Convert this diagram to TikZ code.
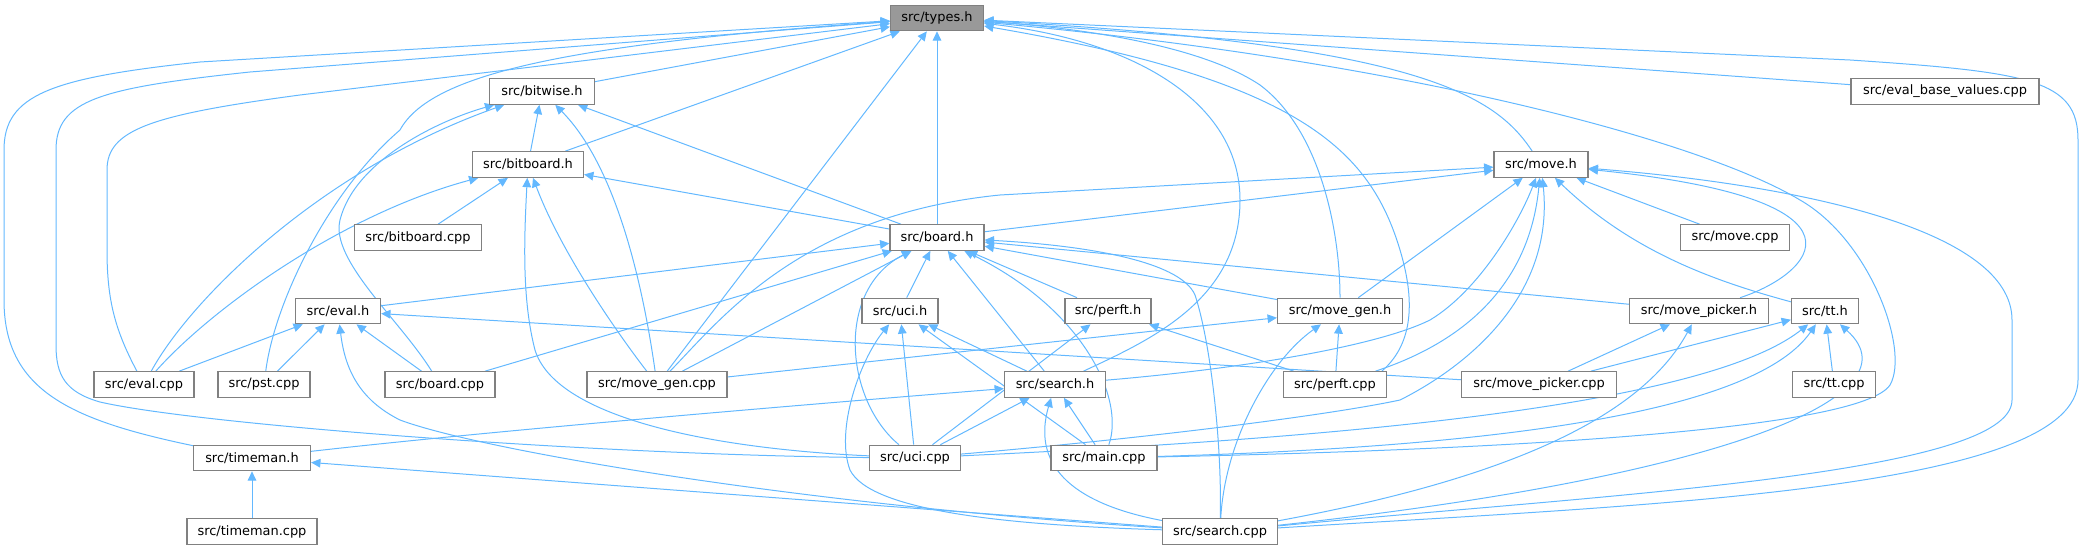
\documentclass[tikz,border=0pt]{standalone}
\usepackage{fontspec}
\newfontfamily\dvs{DejaVu Sans}
\usetikzlibrary{arrows.meta}
\pgfdeclarelayer{background}
\pgfsetlayers{background,main}
\definecolor{edgeblue}{HTML}{63B8FF}
\definecolor{nodeborder}{HTML}{808080}
\definecolor{rootfill}{HTML}{999999}
\begin{document}
\begin{tikzpicture}[x=0.75pt,y=-0.75pt,
  nd/.style={draw=nodeborder,line width=0.9pt,fill=white,minimum height=19.1pt,inner sep=0pt,font={\dvs\fontsize{9.7pt}{11pt}\selectfont}},
  w/.style={minimum width=#1*0.75pt},
  e/.style={draw=edgeblue,line width=0.75pt,-{Triangle[length=7pt,width=6.5pt]}}]
\useasboundingbox (0,0) rectangle (2084,549);
% nodes
\node[nd,w=93,fill=rootfill] (types) at (937,18) {src/types.h};
\node[nd,w=105] (bitwise) at (542,91.5) {src/bitwise.h};
\node[nd,w=188] (evalbase) at (1945,91.5) {src/eval\_base\_values.cpp};
\node[nd,w=111] (bitboard) at (528,164.5) {src/bitboard.h};
\node[nd,w=94] (moveh) at (1541,164.5) {src/move.h};
\node[nd,w=127] (bitboardcpp) at (418,237.5) {src/bitboard.cpp};
\node[nd,w=94] (boardh) at (937,237.5) {src/board.h};
\node[nd,w=109] (movecpp) at (1735,237.5) {src/move.cpp};
\node[nd,w=85] (evalh) at (338,311) {src/eval.h};
\node[nd,w=76] (ucih) at (900,311) {src/uci.h};
\node[nd,w=86] (perfth) at (1108,311) {src/perft.h};
\node[nd,w=125] (movegenh) at (1340,311) {src/move\_gen.h};
\node[nd,w=139] (movepickerh) at (1699,311) {src/move\_picker.h};
\node[nd,w=67] (tth) at (1825,311) {src/tt.h};
\node[nd,w=100] (evalcpp) at (144,384.5) {src/eval.cpp};
\node[nd,w=92] (pstcpp) at (264,384.5) {src/pst.cpp};
\node[nd,w=110] (boardcpp) at (440,384.5) {src/board.cpp};
\node[nd,w=140] (movegencpp) at (657,384.5) {src/move\_gen.cpp};
\node[nd,w=101] (searchh) at (1055,384.5) {src/search.h};
\node[nd,w=103] (perftcpp) at (1335,384.5) {src/perft.cpp};
\node[nd,w=155] (movepickercpp) at (1539,384.5) {src/move\_picker.cpp};
\node[nd,w=83] (ttcpp) at (1834,384.5) {src/tt.cpp};
\node[nd,w=117] (timemanh) at (252,458) {src/timeman.h};
\node[nd,w=91] (ucicpp) at (915,458) {src/uci.cpp};
\node[nd,w=106] (maincpp) at (1104,458) {src/main.cpp};
\node[nd,w=130] (timemancpp) at (252,531.5) {src/timeman.cpp};
\node[nd,w=115] (searchcpp) at (1220,531.5) {src/search.cpp};
\begin{pgfonlayer}{background}
% types.h
\draw[e] (bitwise) -- (types);
\draw[e] (bitboard) -- (types);
\draw[e] (boardh) -- (types);
\draw[e] (movegencpp) -- (types);
\draw[e] (moveh) .. controls (1495,95) and (1420,45) .. (types);
\draw[e] (evalbase) -- (types);
\draw[e] (searchcpp) .. controls (1650,505) and (2078,490) .. (2078,380) -- (2078,140) .. controls (2078,80) and (2030,72) .. (1850,60) -- (types);
\draw[e] (searchh) .. controls (1150,340) and (1240,300) .. (1240,200) .. controls (1240,100) and (1130,40) .. (types);
\draw[e] (movegenh) .. controls (1340,230) and (1320,130) .. (1260,85) .. controls (1200,45) and (1080,28) .. (types);
\draw[e] ([xshift=-4pt]perftcpp.north east) .. controls (1418,340) and (1412,290) .. (1400,250) .. controls (1370,150) and (1300,80) .. (types);
\draw[e] (maincpp) .. controls (1500,450) and (1860,430) .. (1890,385) .. controls (1910,350) and (1870,240) .. (1800,200) .. controls (1700,140) and (1400,60) .. (types);
\draw[e] (ucicpp) .. controls (600,455) and (200,425) .. (100,402) .. controls (65,392) and (56,375) .. (56,345) -- (56,150) .. controls (56,100) and (100,88) .. (250,72) -- (types);
\draw[e] (timemanh) .. controls (70,420) and (4,390) .. (4,300) -- (4,150) .. controls (4,95) and (50,78) .. (200,62) -- (types);
\draw[e] (evalcpp) .. controls (115,330) and (107,300) .. (107,250) -- (107,170) .. controls (107,130) and (150,115) .. (300,95) -- (types);
\draw[e] (pstcpp) .. controls (275,300) and (330,190) .. (400,130) .. controls (430,75) and (560,45) .. (types);
% bitwise.h
\draw[e] (bitboard) -- (bitwise);
\draw[e] (evalcpp) .. controls (190,300) and (320,170) .. (bitwise);
\draw[e] (boardcpp) .. controls (400,320) and (330,260) .. (340,220) .. controls (355,160) and (440,120) .. (bitwise);
\draw[e] (movegencpp) .. controls (645,300) and (620,170) .. (bitwise);
\draw[e] (boardh) -- (bitwise);
% bitboard.h
\draw[e] (bitboardcpp) -- (bitboard);
\draw[e] (evalcpp) .. controls (210,310) and (340,215) .. (bitboard);
\draw[e] (ucicpp) .. controls (700,448) and (555,415) .. (535,350) .. controls (522,300) and (524,240) .. (bitboard);
\draw[e] (movegencpp) .. controls (615,330) and (560,250) .. (bitboard);
\draw[e] (boardh) -- (bitboard);
% board.h
\draw[e] (evalh) -- (boardh);
\draw[e] (boardcpp) -- (boardh);
\draw[e] (movegencpp) -- (boardh);
\draw[e] (ucicpp) .. controls (845,400) and (835,290) .. (boardh);
\draw[e] (ucih) -- (boardh);
\draw[e] (searchh) -- (boardh);
\draw[e] (maincpp) .. controls (1125,400) and (1085,310) .. (boardh);
\draw[e] (perfth) -- (boardh);
\draw[e] (searchcpp) .. controls (1222,440) and (1210,340) .. (1195,295) .. controls (1180,260) and (1080,245) .. (boardh);
\draw[e] (movegenh) -- (boardh);
\draw[e] (movepickerh) -- (boardh);
% move.h
\draw[e] (boardh) -- (moveh);
\draw[e] (movegencpp) .. controls (720,320) and (800,215) .. (1000,195) -- (moveh);
\draw[e] (movegenh) -- (moveh);
\draw[e] (perftcpp) .. controls (1470,340) and (1530,280) .. (moveh);
\draw[e] (searchh) .. controls (1250,368) and (1380,345) .. (1430,320) .. controls (1480,290) and (1520,220) .. (moveh);
\draw[e] (ucicpp) .. controls (1150,438) and (1330,415) .. (1400,400) .. controls (1460,370) and (1555,300) .. (moveh);
\draw[e] (tth) .. controls (1710,280) and (1630,250) .. (moveh);
\draw[e] (movecpp) -- (moveh);
\draw[e] (movepickerh) .. controls (1810,275) and (1890,200) .. (moveh);
\draw[e] (searchcpp) .. controls (1600,495) and (2012,475) .. (2012,400) -- (2012,320) .. controls (2012,230) and (1800,185) .. (moveh);
% eval.h
\draw[e] (evalcpp) -- (evalh);
\draw[e] (pstcpp) -- (evalh);
\draw[e] (boardcpp) -- (evalh);
\draw[e] (searchcpp) .. controls (800,505) and (480,450) .. (400,420) .. controls (360,400) and (345,370) .. (evalh);
\draw[e] (movepickercpp) -- (evalh);
% uci.h
\draw[e] (ucicpp) -- (ucih);
\draw[e] (maincpp) -- (ucih);
\draw[e] (searchh) -- (ucih);
\draw[e] (searchcpp) .. controls (1000,525) and (870,510) .. (850,470) .. controls (835,430) and (860,360) .. (ucih);
% perft.h
\draw[e] (ucicpp) -- (perfth);
\draw[e] (perftcpp) -- (perfth);
% search.h
\draw[e] (timemanh) .. controls (500,430) and (800,405) .. (searchh);
\draw[e] (ucicpp) -- (searchh);
\draw[e] (maincpp) -- (searchh);
\draw[e] (searchcpp) .. controls (1080,505) and (1030,470) .. (searchh);
% move_gen.h
\draw[e] (movegencpp) -- (movegenh);
\draw[e] (perftcpp) -- (movegenh);
\draw[e] (searchcpp) .. controls (1225,440) and (1270,360) .. (movegenh);
% move_picker.h
\draw[e] (movepickercpp) -- (movepickerh);
\draw[e] (searchcpp) .. controls (1500,480) and (1640,420) .. (movepickerh);
% tt.h
\draw[e] (movepickercpp) -- (tth);
\draw[e] (ucicpp) .. controls (1300,440) and (1700,410) .. (tth);
\draw[e] (maincpp) .. controls (1450,448) and (1750,420) .. (tth);
\draw[e] (ttcpp) -- (tth);
\draw[e] (searchcpp) .. controls (1700,480) and (1925,400) .. (tth);
% timeman.h
\draw[e] (timemancpp) -- (timemanh);
\draw[e] (searchcpp) -- (timemanh);
\end{pgfonlayer}
\end{tikzpicture}
\end{document}
